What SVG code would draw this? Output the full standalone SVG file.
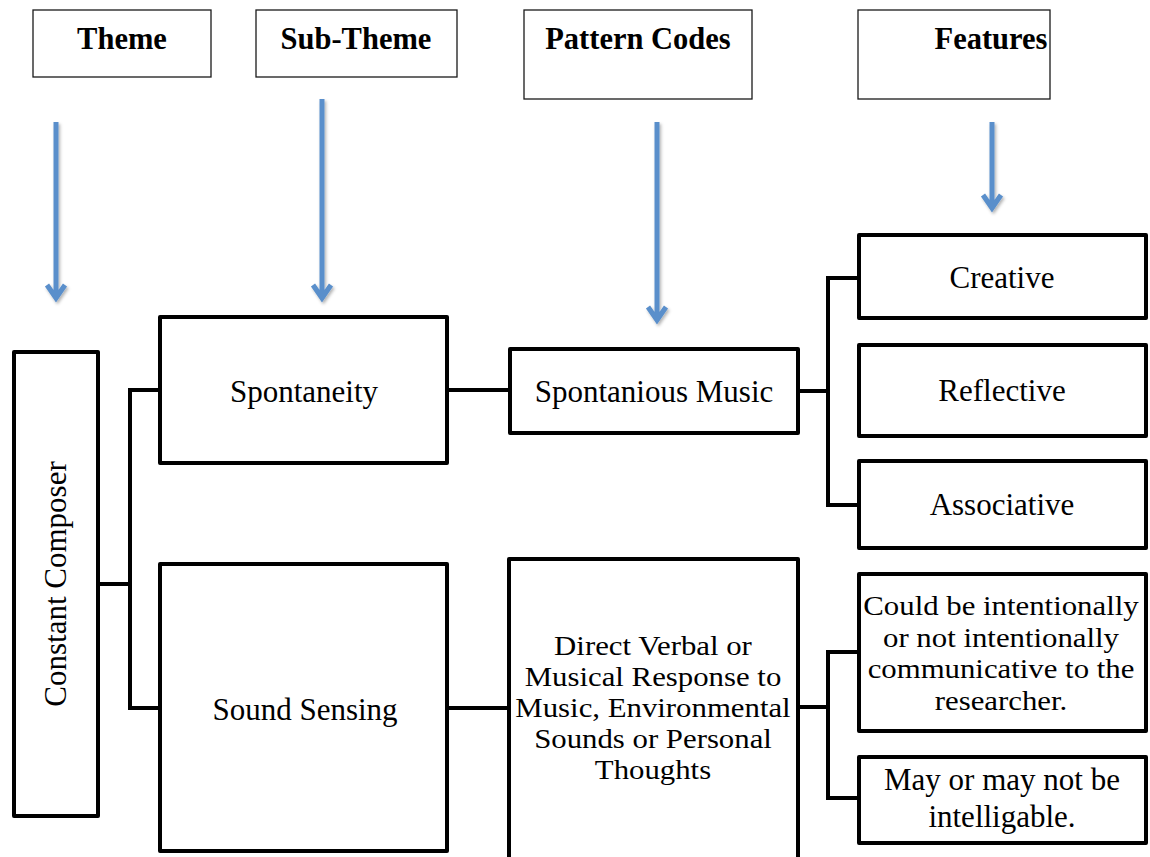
<svg xmlns="http://www.w3.org/2000/svg" width="1150" height="857" viewBox="0 0 1150 857">
<style>
.hdr{fill:#fff;stroke:#1a1a1a;stroke-width:1.3}
.box{fill:#fff;stroke:#000;stroke-width:4;stroke-linejoin:round}
.conn{fill:none;stroke:#000;stroke-width:4;stroke-linejoin:miter}
.arr{fill:none;stroke:#5A8FCB;stroke-width:5}
.ht{font-family:"Liberation Serif",serif;font-weight:bold;font-size:30.5px;fill:#000;text-anchor:middle}
.t{font-family:"Liberation Serif",serif;font-size:31px;fill:#000;text-anchor:middle}
.tm{font-family:"Liberation Serif",serif;font-size:28px;fill:#000;text-anchor:middle}
</style>
<defs>
<filter id="sh" x="-50%" y="-10%" width="200%" height="120%">
<feDropShadow dx="1.5" dy="2" stdDeviation="1.5" flood-color="#000" flood-opacity="0.3"/>
</filter>
</defs>
<rect width="1150" height="857" fill="#fff"/>

<g id="hdr-theme"><rect class="hdr" x="33" y="10" width="178" height="67"/><text class="ht" x="122" y="49">Theme</text></g>
<g id="hdr-subtheme"><rect class="hdr" x="256" y="10" width="201" height="67"/><text class="ht" x="356" y="49">Sub-Theme</text></g>
<g id="hdr-pattern"><rect class="hdr" x="524" y="10" width="228" height="89"/><text class="ht" x="638" y="49">Pattern Codes</text></g>
<g id="hdr-features"><rect class="hdr" x="858" y="10" width="192" height="89"/><text class="ht" x="991" y="49">Features</text></g>

<g id="arrows" filter="url(#sh)">
<path class="arr" d="M56,122 V296 M47,285 L56,298 L65,285"/>
<path class="arr" d="M322,99 V296 M313,285 L322,298 L331,285"/>
<path class="arr" d="M657,122 V318 M648,307 L657,320 L666,307"/>
<path class="arr" d="M992,122 V206 M983,195 L992,208 L1001,195"/>
</g>

<g id="connectors">
<path class="conn" d="M100,584 H130"/>
<path class="conn" d="M160,390 H130 V708 H160"/>
<path class="conn" d="M449,390 H510"/>
<path class="conn" d="M449,708 H509"/>
<path class="conn" d="M798,391 H828"/>
<path class="conn" d="M859,278 H828 V505 H859"/>
<path class="conn" d="M798,707 H828"/>
<path class="conn" d="M859,652 H828 V798 H859"/>
</g>

<g id="n-constant-composer"><rect class="box" x="14" y="352" width="84" height="464"/><text class="t" transform="translate(66,584) rotate(-90)" x="0" y="0">Constant Composer</text></g>
<g id="n-spontaneity"><rect class="box" x="160" y="317" width="287" height="146"/><text class="t" x="304" y="402">Spontaneity</text></g>
<g id="n-sound-sensing"><rect class="box" x="160" y="564" width="287" height="287"/><text class="t" x="305" y="720">Sound Sensing</text></g>
<g id="n-spontanious-music"><rect class="box" x="510" y="349" width="288" height="84"/><text class="t" x="654" y="402">Spontanious Music</text></g>
<g id="n-direct-verbal"><rect class="box" x="509" y="559" width="289" height="310"/>
<text class="tm" transform="translate(653,0) scale(1.1,1)"><tspan x="0" y="655">Direct Verbal or</tspan><tspan x="0" y="686">Musical Response to</tspan><tspan x="0" y="717">Music, Environmental</tspan><tspan x="0" y="748">Sounds or Personal</tspan><tspan x="0" y="779">Thoughts</tspan></text></g>
<g id="n-creative"><rect class="box" x="859" y="235" width="287" height="83"/><text class="t" x="1002" y="288">Creative</text></g>
<g id="n-reflective"><rect class="box" x="859" y="345" width="287" height="91"/><text class="t" x="1002" y="401">Reflective</text></g>
<g id="n-associative"><rect class="box" x="859" y="461" width="287" height="87"/><text class="t" x="1002" y="515">Associative</text></g>
<g id="n-communicative"><rect class="box" x="859" y="574" width="287" height="157"/>
<text class="tm" transform="translate(1001,0) scale(1.1,1)"><tspan x="0" y="615">Could be intentionally</tspan><tspan x="0" y="647">or not intentionally</tspan><tspan x="0" y="678">communicative to the</tspan><tspan x="0" y="710">researcher.</tspan></text></g>
<g id="n-intelligable"><rect class="box" x="859" y="757" width="287" height="86"/>
<text class="t" x="1002"><tspan x="1002" y="790">May or may not be</tspan><tspan x="1002" y="827">intelligable.</tspan></text></g>
</svg>
